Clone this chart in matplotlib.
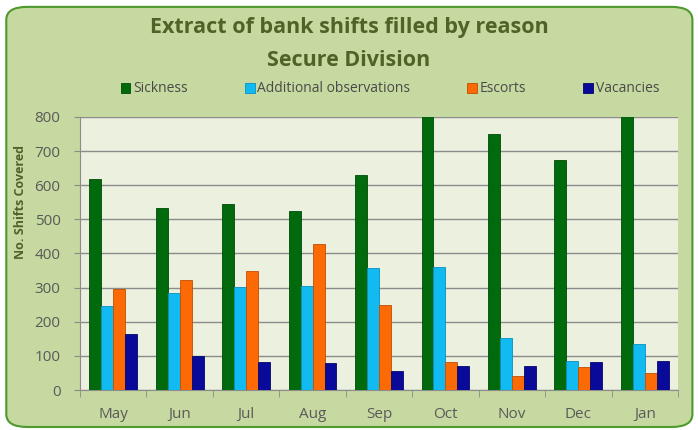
import numpy as np
import matplotlib.pyplot as plt
from matplotlib.patches import FancyBboxPatch

months = ["May", "Jun", "Jul", "Aug", "Sep", "Oct", "Nov", "Dec", "Jan"]
sickness = [617, 532, 544, 525, 629, 850, 751, 674, 850]
additional = [247, 285, 301, 305, 357, 360, 152, 86, 135]
escorts = [296, 323, 350, 428, 249, 83, 42, 67, 51]
vacancies = [163, 100, 83, 80, 57, 70, 71, 82, 86]

series = [
    ("Sickness", sickness, "#006a0c", "#004a08"),
    ("Additional observations", additional, "#12baf2", "#0a8fc0"),
    ("Escorts", escorts, "#fb6a05", "#c04f00"),
    ("Vacancies", vacancies, "#0a0a9a", "#05056a"),
]

title_col = "#4f6228"

plt.rcParams["font.family"] = ["Open Sans", "DejaVu Sans"]

fig = plt.figure(figsize=(6.98, 4.30), dpi=100)
fig.patch.set_facecolor("white")

# rounded outer frame
frame = FancyBboxPatch(
    (0.009, 0.007), 0.983, 0.977,
    boxstyle="round,pad=0,rounding_size=0.03",
    transform=fig.transFigure,
    facecolor="#c6d9a0", edgecolor="#4e9a2e", linewidth=1.5,
    zorder=-10
)
fig.patches.append(frame)

ax = fig.add_axes([80/698, 1 - 390/430, 598/698, 273/430])
ax.set_facecolor("#ebf0df")

x = np.arange(len(months))
w = 0.18
for i, (name, vals, col, edge) in enumerate(series):
    ax.bar(
        x + (i - 1.5) * w, vals, width=w,
        color=col, edgecolor=edge, linewidth=0.6,
        label=name, zorder=3
    )

ax.set_xlim(-0.5, len(months) - 0.5)
ax.set_ylim(0, 800)
ax.set_yticks(range(0, 801, 100))
ax.yaxis.grid(True, color="#8c8c8c", linewidth=1, zorder=0)
ax.set_axisbelow(True)

ax.set_xticks(x)
ax.set_xticklabels(months)
ax.set_xticks(np.arange(-0.5, len(months), 1), minor=True)
ax.tick_params(axis="x", which="major", length=0, pad=12,
               labelsize=11, labelcolor="#5a5a5a")
ax.tick_params(axis="x", which="minor", length=5, color="#8c8c8c",
               direction="out")
ax.tick_params(axis="y", length=4, color="#8c8c8c",
               labelsize=11, labelcolor="#5a5a5a", pad=10)

for s in ["top", "right"]:
    ax.spines[s].set_visible(False)
ax.spines["left"].set_color("#8c8c8c")
ax.spines["bottom"].set_color("#8c8c8c")

ax.set_ylabel("No. Shifts Covered", fontsize=9, fontweight="bold",
              color=title_col)
ax.yaxis.set_label_coords(-0.088, 0.69)

fig.text(0.5, 1 - 27/430, "Extract of bank shifts filled by reason",
         ha="center", va="center", fontsize=15.5, fontweight="bold",
         color=title_col)
fig.text(0.5, 1 - 60/430, "Secure Division",
         ha="center", va="center", fontsize=15.5, fontweight="bold",
         color=title_col)

fig.legend(
    loc="center", bbox_to_anchor=(390/698, 1 - 89/430),
    ncol=4, frameon=False, fontsize=10,
    handlelength=0.7, handleheight=0.7, handletextpad=0.2,
    columnspacing=4.1, labelcolor="#4a4a4a"
)

fig.savefig("out.png", dpi=100, facecolor=fig.get_facecolor())
